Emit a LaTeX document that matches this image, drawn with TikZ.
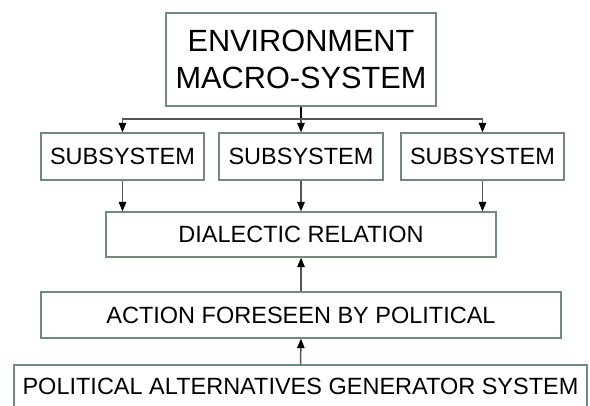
\documentclass[tikz,border=0pt]{standalone}
\usepackage{fontspec}
\setmainfont{Liberation Sans}
\usetikzlibrary{arrows.meta}
\definecolor{boxline}{HTML}{6F8C7A}
\definecolor{wire}{HTML}{555555}
\tikzset{
  sysbox/.style={draw=boxline, line width=1.3pt, inner sep=0pt, font=\fontsize{23.5}{28}\selectfont},
  feed/.style={draw=wire, line width=1.5pt, -{Triangle[length=9.5pt,width=7.5pt,black]}}
}

\begin{document}
\begin{tikzpicture}[x=1pt,y=-1pt]
\useasboundingbox (0,0) rectangle (590,405);
\node[sysbox, minimum width=270, minimum height=93, align=center, font=\fontsize{30.7}{37}\selectfont] (env) at (301,59.5) {ENVIRONMENT\\MACRO-SYSTEM}; %top box

\node[sysbox, minimum width=163, minimum height=47] (sub1) at (122.5,156.5) {SUBSYSTEM}; %subsystems
\node[sysbox, minimum width=164, minimum height=47] (sub2) at (301,156.5) {SUBSYSTEM};
\node[sysbox, minimum width=163, minimum height=47] (sub3) at (482.5,156.5) {SUBSYSTEM};

\node[sysbox, minimum width=390, minimum height=45] (dial) at (301,234.5) {DIALECTIC RELATION};
\node[sysbox, minimum width=520, minimum height=46] (act) at (301,315) {ACTION FORESEEN BY POLITICAL};
\node[sysbox, minimum width=573, minimum height=43] (gen) at (300.5,386.5) {POLITICAL ALTERNATIVES GENERATOR SYSTEM};

\coordinate (split) at (301,119); %branch point
\draw[line width=1.6pt] (env.south) -- (split);
\draw[feed] (split) -| (sub1.north);
\draw[feed] (split) -- (sub2.north);
\draw[feed] (split) -| (sub3.north);

\draw[feed] (sub1.south) -- (sub1.south |- dial.north); %into the relation
\draw[feed] (sub2.south) -- (dial.north);
\draw[feed] (sub3.south) -- (sub3.south |- dial.north);

\draw[feed] (act.north) -- (dial.south);
\draw[feed] (gen.north) -- (act.south);
\end{tikzpicture}
\end{document}
